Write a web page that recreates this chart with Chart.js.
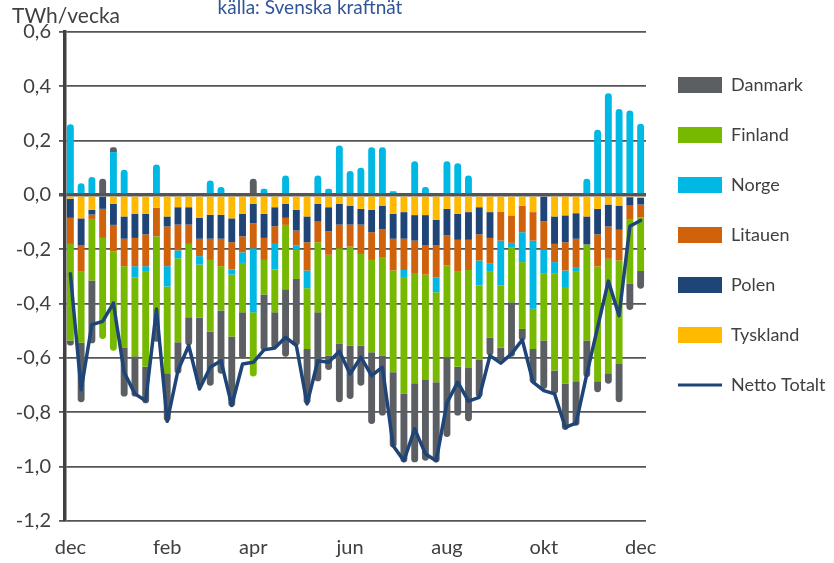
<!DOCTYPE html>
<html>
<head>
<meta charset="utf-8">
<script src="https://cdn.jsdelivr.net/npm/chart.js@4/dist/chart.umd.min.js"></script>
<style>
  html, body { margin: 0; padding: 0; background: #fff; }
  canvas { display: block; }
</style>
</head>
<body>
<canvas id="grafico" width="834" height="563"></canvas>
<script>
const enhet = 'TWh/vecka';
const kalla = 'källa: Svenska kraftnät';

const veckor = ['v48','v49','v50','v51','v52','v1','v2','v3','v4','v5','v6','v7','v8','v9','v10','v11','v12','v13',
  'v14','v15','v16','v17','v18','v19','v20','v21','v22','v23','v24','v25','v26','v27','v28','v29','v30','v31',
  'v32','v33','v34','v35','v36','v37','v38','v39','v40','v41','v42','v43','v44','v45','v46','v47','v48','v49'];

const manader = ['dec', 'feb', 'apr', 'jun', 'aug', 'okt', 'dec'];
const manadVecka = [0, 9, 17, 26, 35, 44, 53];

const tyskland = [-0.014,-0.086,-0.055,0,-0.033,-0.079,-0.069,-0.069,-0.047,-0.079,-0.045,-0.045,-0.084,-0.073,-0.073,-0.086,-0.069,-0.033,
  -0.069,-0.045,-0.033,-0.055,-0.079,-0.033,-0.045,-0.033,-0.039,-0.051,-0.055,-0.039,-0.069,-0.063,-0.074,-0.074,-0.091,-0.051,
  -0.069,-0.063,-0.045,-0.063,-0.061,-0.075,-0.039,-0.063,0,-0.079,-0.075,-0.067,-0.079,-0.051,-0.035,-0.039,-0.008,-0.01];
const polen = [-0.07,-0.10,-0.017,-0.051,-0.077,-0.082,-0.089,-0.076,0,-0.037,-0.064,-0.064,-0.077,-0.088,-0.088,-0.088,-0.083,-0.071,
  -0.089,-0.07,-0.051,-0.076,-0.095,-0.065,-0.088,-0.076,-0.07,-0.058,-0.082,-0.088,-0.092,-0.098,-0.094,-0.112,-0.095,-0.098,
  -0.096,-0.102,-0.10,-0.095,0,0,0,0,-0.096,-0.101,-0.099,-0.094,-0.103,-0.094,-0.081,-0.089,-0.031,-0.025];
const litauen = [-0.096,-0.094,-0.016,-0.107,-0.098,-0.101,-0.104,-0.117,-0.105,-0.146,-0.095,-0.071,-0.064,-0.078,-0.101,-0.10,-0.059,-0.092,
  -0.081,-0.065,-0.026,-0.055,-0.104,-0.076,-0.087,-0.087,-0.081,-0.108,-0.102,-0.104,-0.117,-0.115,-0.122,-0.107,-0.117,-0.11,
  -0.115,-0.111,-0.096,-0.093,-0.107,-0.101,-0.098,-0.105,-0.106,-0.067,-0.104,-0.107,0,-0.118,-0.119,-0.113,-0.052,-0.047];
const norge = [0.26,0.043,0.066,0,0.158,0.093,-0.041,-0.018,0.112,-0.075,-0.029,0,-0.031,0.053,0.029,-0.019,-0.039,-0.236,
  0.023,-0.094,0.072,-0.016,-0.065,0.072,0.023,0.182,0.088,0.10,0.176,0.176,0.014,-0.029,0.124,0.029,-0.055,0.124,
  0.117,0.072,-0.092,-0.029,-0.165,-0.016,-0.11,-0.251,-0.088,-0.043,-0.064,-0.012,0.06,0.24,0.375,0.317,0.311,0.262];
const finland = [-0.356,-0.264,-0.227,-0.372,-0.365,-0.301,-0.291,-0.352,-0.335,-0.319,-0.309,-0.27,-0.196,-0.263,-0.163,-0.228,-0.182,-0.236,
  -0.127,-0.158,-0.237,-0.107,-0.224,-0.258,-0.371,-0.352,-0.364,-0.337,-0.34,-0.36,-0.374,-0.427,-0.403,-0.388,-0.331,-0.338,
  -0.352,-0.361,-0.274,-0.246,-0.228,-0.203,-0.246,-0.148,-0.246,-0.356,-0.353,-0.406,-0.354,-0.423,-0.421,-0.381,-0.236,-0.198];
const danmark = [-0.018,-0.219,-0.231,0.06,0.018,-0.179,-0.148,-0.135,-0.053,-0.177,-0.116,-0.104,-0.25,-0.20,-0.233,-0.258,-0.171,0.06,
  -0.207,-0.131,-0.248,-0.245,-0.202,-0.254,-0.053,-0.215,-0.197,-0.148,-0.264,-0.221,-0.277,-0.252,-0.291,-0.297,-0.295,-0.294,
  -0.18,-0.196,-0.138,-0.065,-0.049,-0.20,-0.043,-0.126,-0.178,-0.086,-0.17,-0.163,-0.135,-0.04,-0.039,-0.141,-0.096,-0.065];
const netto = [-0.29,-0.717,-0.477,-0.465,-0.398,-0.653,-0.732,-0.757,-0.42,-0.833,-0.646,-0.554,-0.714,-0.634,-0.61,-0.775,-0.622,-0.616,
  -0.57,-0.563,-0.524,-0.554,-0.769,-0.61,-0.616,-0.575,-0.659,-0.597,-0.665,-0.634,-0.923,-0.978,-0.861,-0.953,-0.978,-0.765,
  -0.689,-0.759,-0.745,-0.591,-0.619,-0.585,-0.533,-0.689,-0.72,-0.732,-0.855,-0.84,-0.659,-0.487,-0.317,-0.444,-0.115,-0.094];

const legendOrdning = ['Danmark', 'Finland', 'Norge', 'Litauen', 'Polen', 'Tyskland', 'Netto Totalt'];

Chart.defaults.font.family = 'Lato';
Chart.defaults.color = '#404040';

function stapel(namn, data, farg) {
  return {
    type: 'bar',
    label: namn,
    data: data,
    backgroundColor: farg,
    borderWidth: 0,
    borderRadius: 4,
    barPercentage: 0.64,
    categoryPercentage: 1,
  };
}

const texter = {
  id: 'texter',
  afterDraw(chart) {
    const ctx = chart.ctx;
    ctx.save();
    ctx.textBaseline = 'alphabetic';
    ctx.font = '21px Lato';
    ctx.fillStyle = '#404040';
    ctx.fillText(enhet, 12, 23);
    ctx.font = '19px Lato';
    ctx.fillStyle = '#2F5597';
    ctx.textAlign = 'center';
    ctx.fillText(kalla, 310, 14);
    ctx.restore();
  }
};

const grafico = document.getElementById('grafico').getContext('2d');

new Chart(grafico, {
  data: {
    labels: veckor,
    datasets: [
      stapel('Tyskland', tyskland, '#FFBA00'),
      stapel('Polen', polen, '#1F4478'),
      stapel('Litauen', litauen, '#D0620C'),
      stapel('Norge', norge, '#00B8E4'),
      stapel('Finland', finland, '#76B900'),
      stapel('Danmark', danmark, '#5B5F63'),
      {
        type: 'line',
        label: 'Netto Totalt',
        data: netto,
        stack: 'netto',
        borderColor: '#1F4477',
        backgroundColor: '#1F4477',
        borderWidth: 3.5,
        borderJoinStyle: 'round',
        borderCapStyle: 'round',
        pointRadius: 0,
        tension: 0,
        order: -1,
      },
    ],
  },
  options: {
    responsive: false,
    animation: false,
    layout: { padding: { top: 32, right: 0, bottom: 0, left: 0 } },
    scales: {
      x: {
        stacked: true,
        afterFit(s) { s.height = 42; },
        grid: { display: false, drawTicks: false },
        border: { display: false },
        ticks: {
          autoSkip: false,
          maxRotation: 0,
          padding: 15,
          color: '#404040',
          font: { size: 20 },
          callback: (v, i) => {
            const k = manadVecka.indexOf(i);
            return k >= 0 ? manader[k] : '';
          },
        },
      },
      y: {
        stacked: true,
        min: -1.2,
        max: 0.6,
        afterFit(s) { s.width = 65; },
        ticks: {
          stepSize: 0.2,
          padding: 8,
          color: '#404040',
          font: { size: 20 },
          callback: (v) => (Math.round(v * 10) / 10).toFixed(1).replace('.', ','),
        },
        grid: {
          color: '#555555',
          lineWidth: (c) => (c.tick && Math.abs(c.tick.value) < 1e-9 ? 3.5 : 1.8),
          tickLength: 6,
        },
        border: { color: '#404040', width: 3.5 },
      },
    },
    plugins: {
      tooltip: { enabled: false },
      legend: {
        position: 'right',
        align: 'start',
        maxWidth: 188,
        title: { display: true, text: ' ', font: { size: 10, lineHeight: 1.2 }, padding: 0 },
        labels: {
          usePointStyle: true,
          pointStyleWidth: 44,
          boxHeight: 16,
          padding: 32,
          color: '#404040',
          font: { size: 18 },
          sort: (a, b) => legendOrdning.indexOf(a.text) - legendOrdning.indexOf(b.text),
          generateLabels(chart) {
            const items = Chart.defaults.plugins.legend.labels.generateLabels(chart);
            return items.map((it) => {
              const ds = chart.data.datasets[it.datasetIndex];
              if (ds.type === 'line') {
                it.pointStyle = 'line';
                it.lineWidth = 3;
                it.strokeStyle = ds.borderColor;
              } else {
                it.pointStyle = 'rect';
                it.lineWidth = 0;
                it.fillStyle = ds.backgroundColor;
              }
              return it;
            });
          },
        },
      },
    },
  },
  plugins: [texter],
});
</script>
</body>
</html>
